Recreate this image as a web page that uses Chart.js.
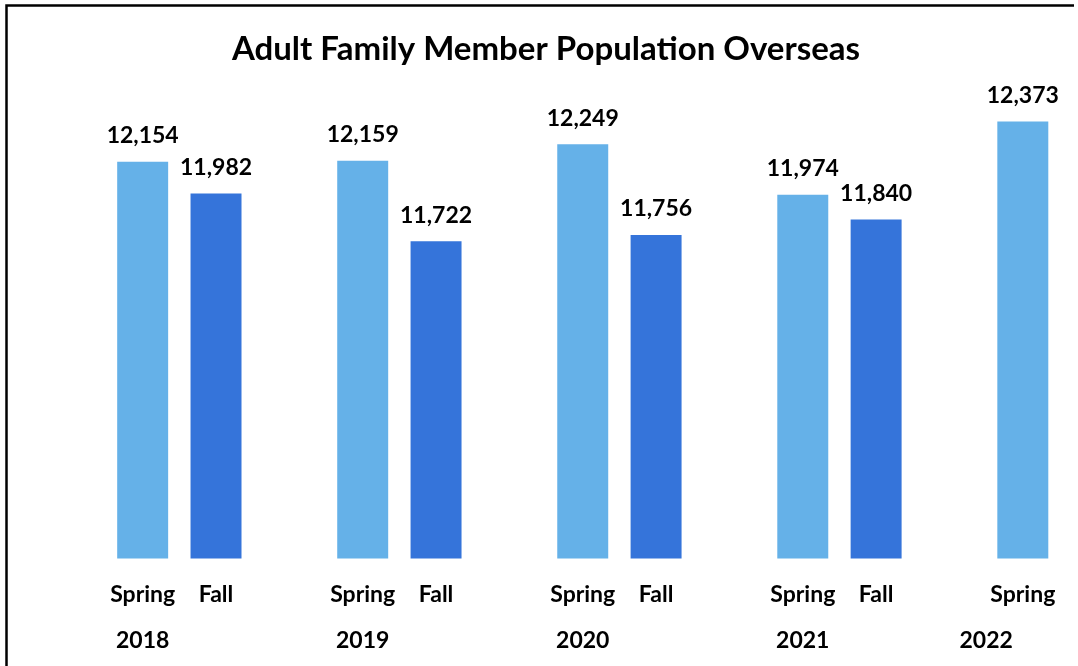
<!DOCTYPE html>
<html>
<head>
<meta charset="utf-8">
<script src="https://cdn.jsdelivr.net/npm/chart.js@4/dist/chart.umd.min.js"></script>
<style>
  html, body { margin: 0; padding: 0; background: #fff; }
  #chart-wrap { width: 1078px; height: 666px; position: relative; }
</style>
</head>
<body>
<div id="chart-wrap"><canvas id="population-chart"></canvas></div>
<script>
  const chartTitle = 'Adult Family Member Population Overseas';
  const seasonLabels = ['Spring', 'Fall', '', 'Spring', 'Fall', '', 'Spring', 'Fall', '', 'Spring', 'Fall', '', 'Spring'];
  const springValues = [12154, null, null, 12159, null, null, 12249, null, null, 11974, null, null, 12373];
  const fallValues = [null, 11982, null, null, 11722, null, null, 11756, null, null, 11840, null, null];
  const yearLabels = ['2018', '2019', '2020', '2021', '2022'];
  const yearAnchors = [0, 3, 6, 9, 11.5];

  const FONT = "Lato, 'Open Sans', 'Noto Sans', sans-serif";
  const springColor = '#65b1e8';
  const fallColor = '#3574da';

  // border of the picture (left + top only, the rest is cropped)
  const frame = {
    id: 'frame',
    afterDraw(chart) {
      const ctx = chart.ctx;
      ctx.save();
      ctx.strokeStyle = '#000';
      ctx.lineWidth = 2.5;
      ctx.beginPath();
      ctx.moveTo(6.5, 666);
      ctx.lineTo(6.5, 5.5);
      ctx.lineTo(1074, 5.5);
      ctx.stroke();
      ctx.restore();
    }
  };

  const titleText = {
    id: 'titleText',
    afterDraw(chart) {
      const ctx = chart.ctx;
      ctx.save();
      ctx.font = `bold 33px ${FONT}`;
      ctx.fillStyle = '#000';
      ctx.textAlign = 'center';
      ctx.textBaseline = 'middle';
      ctx.fillText(chartTitle, 546, 49);
      ctx.restore();
    }
  };

  const valueLabels = {
    id: 'valueLabels',
    afterDatasetsDraw(chart) {
      const ctx = chart.ctx;
      ctx.save();
      ctx.font = `bold 23px ${FONT}`;
      ctx.fillStyle = '#000';
      ctx.textAlign = 'center';
      ctx.textBaseline = 'middle';
      chart.data.datasets.forEach((ds, i) => {
        chart.getDatasetMeta(i).data.forEach((bar, idx) => {
          const v = ds.data[idx];
          if (v == null) {
            return;
          }
          ctx.fillText(v.toLocaleString('en-US'), bar.x, bar.y - 26);
        });
      });
      ctx.restore();
    }
  };

  const yearRow = {
    id: 'yearRow',
    afterDraw(chart) {
      const ctx = chart.ctx;
      const x = chart.scales.x;
      ctx.save();
      ctx.font = `bold 23px ${FONT}`;
      ctx.fillStyle = '#000';
      ctx.textAlign = 'center';
      ctx.textBaseline = 'middle';
      yearLabels.forEach((year, i) => {
        ctx.fillText(year, x.getPixelForValue(yearAnchors[i]), 641);
      });
      ctx.restore();
    }
  };

  new Chart(document.getElementById('population-chart'), {
    type: 'bar',
    data: {
      labels: seasonLabels,
      datasets: [
        { label: 'Spring', data: springValues, backgroundColor: springColor },
        { label: 'Fall', data: fallValues, backgroundColor: fallColor }
      ]
    },
    options: {
      responsive: true,
      maintainAspectRatio: false,
      animation: false,
      devicePixelRatio: 1,
      layout: {
        padding: { left: 106, right: 18, top: 98, bottom: 36 }
      },
      datasets: {
        bar: {
          grouped: false,
          categoryPercentage: 1,
          barPercentage: 0.695
        }
      },
      scales: {
        x: {
          grid: { display: false, drawTicks: false },
          border: { display: false },
          ticks: {
            color: '#000',
            font: { family: FONT, size: 23, weight: 'bold' },
            padding: 22,
            maxRotation: 0,
            autoSkip: false
          }
        },
        y: {
          display: false,
          min: 10000,
          max: 12500
        }
      },
      plugins: {
        legend: { display: false },
        tooltip: { enabled: false },
        title: { display: false }
      }
    },
    plugins: [valueLabels, yearRow, titleText, frame]
  });
</script>
</body>
</html>
